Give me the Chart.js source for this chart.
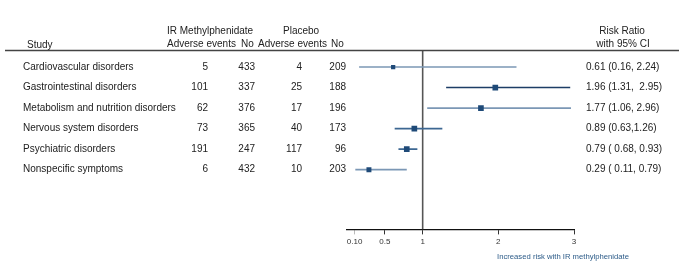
<!DOCTYPE html>
<html lang="en">
<head>
  <meta charset="UTF-8">
  <title>IR Methylphenidate adverse events - forest plot</title>
  <script src="https://cdn.jsdelivr.net/npm/chart.js"></script>
  <style>
    html, body { margin: 0; padding: 0; background: #fff; }
    #wrap { width: 679px; height: 275px; position: relative; }
  </style>
</head>
<body>
  <div id="wrap"><canvas id="forest"></canvas></div>

  <script>
    // data
    const studies = ["Cardiovascular disorders", "Gastrointestinal disorders", "Metabolism and nutrition disorders",
                     "Nervous system disorders", "Psychiatric disorders", "Nonspecific symptoms"];
    const irEvents = [5, 101, 62, 73, 191, 6];
    const irNo = [433, 337, 376, 365, 247, 432];
    const plEvents = [4, 25, 17, 40, 117, 10];
    const plNo = [209, 188, 196, 173, 96, 203];
    const rr = [0.61, 1.96, 1.77, 0.89, 0.79, 0.29];
    const lower = [0.16, 1.31, 1.06, 0.63, 0.68, 0.11];
    const upper = [2.24, 2.95, 2.96, 1.26, 0.93, 0.79];
    const rrText = ["0.61 (0.16, 2.24)", "1.96 (1.31,  2.95)", "1.77 (1.06, 2.96)",
                    "0.89 (0.63,1.26)", "0.79 ( 0.68, 0.93)", "0.29 ( 0.11, 0.79)"];
    const boxSize = [5, 7, 7, 7, 7, 6];
    const tickValues = [0.1, 0.5, 1, 2, 3];
    const tickLabels = ["0.10", "0.5", "1", "2", "3"];

    const ciColors = ["#7b97b5", "#1d3d66", "#7b97b5", "#3d6792", "#3d6792", "#7b97b5"];
    const FONT = '"Liberation Sans", Arial, sans-serif';
    const Y_MIN = -0.83, Y_MAX = 7.91;

    const datasets = [];
    // CI lines, one small line dataset per row
    studies.forEach((s, i) => {
      datasets.push({
        type: "line",
        data: [{ x: lower[i], y: i }, { x: upper[i], y: i }],
        borderColor: ciColors[i],
        borderWidth: 1.6,
        pointRadius: 0,
        order: 2
      });
    });
    // line of no effect
    datasets.push({
      type: "line",
      data: [{ x: 1, y: Y_MIN }, { x: 1, y: Y_MAX }],
      borderColor: "#555",
      borderWidth: 1.6,
      pointRadius: 0,
      order: 3
    });
    // point estimates
    datasets.push({
      type: "scatter",
      data: rr.map((v, i) => ({ x: v, y: i })),
      pointStyle: "rect",
      pointRadius: boxSize.map(b => b / 2 + 0.5),
      backgroundColor: "#1f4a78",
      borderColor: "#1f4a78",
      borderWidth: 0,
      order: 1
    });

    const tablePlugin = {
      id: "tableText",
      afterDraw(chart) {
        const ctx = chart.ctx;
        const y = chart.scales.y;
        ctx.save();
        ctx.fillStyle = "#222";
        ctx.textBaseline = "middle";
        ctx.font = "10px " + FONT;

        // headers
        ctx.textAlign = "left";
        ctx.fillText("Study", 27, 45);
        ctx.fillText("IR Methylphenidate", 167, 31);
        ctx.fillText("Adverse events", 167, 44);
        ctx.fillText("No", 241, 44);
        ctx.fillText("Placebo", 283, 31);
        ctx.fillText("Adverse events", 258, 44);
        ctx.fillText("No", 331, 44);
        ctx.textAlign = "center";
        ctx.fillText("Risk Ratio", 622, 31);
        ctx.fillText("with 95% CI", 623, 44);

        // header rule
        ctx.strokeStyle = "#444";
        ctx.lineWidth = 1.5;
        ctx.beginPath();
        ctx.moveTo(5, 50.5);
        ctx.lineTo(679, 50.5);
        ctx.stroke();

        studies.forEach((s, i) => {
          const py = y.getPixelForValue(i);
          ctx.textAlign = "left";
          ctx.fillText(s, 23, py);
          ctx.textAlign = "right";
          ctx.fillText(String(irEvents[i]), 208, py);
          ctx.fillText(String(irNo[i]), 255, py);
          ctx.fillText(String(plEvents[i]), 302, py);
          ctx.fillText(String(plNo[i]), 346, py);
          ctx.textAlign = "left";
          ctx.fillText(rrText[i], 586, py);
        });

        ctx.font = "7.7px " + FONT;
        ctx.fillStyle = "#2c5b88";
        ctx.textAlign = "left";
        ctx.fillText("Increased risk with IR methylphenidate", 497, 257);
        ctx.restore();
      }
    };

    new Chart(document.getElementById("forest"), {
      type: "scatter",
      data: { datasets },
      options: {
        responsive: true,
        maintainAspectRatio: false,
        animation: false,
        events: [],
        layout: { padding: { left: 347, right: 105, top: 50, bottom: 25 } },
        plugins: { legend: { display: false }, tooltip: { enabled: false } },
        scales: {
          x: {
            type: "linear",
            min: 0,
            max: 3,
            afterBuildTicks: (axis) => { axis.ticks = tickValues.map(v => ({ value: v })); },
            ticks: {
              autoSkip: false,
              maxRotation: 0,
              padding: 3,
              color: "#333",
              font: { family: FONT, size: 8 },
              callback: (v) => tickLabels[tickValues.indexOf(v)]
            },
            grid: {
              drawOnChartArea: false,
              drawTicks: true,
              tickLength: 5,
              color: (c) => c.index === 0 ? "#bbb" : "#333"
            },
            border: { display: true, color: "#111", width: 1.2 }
          },
          y: {
            type: "linear",
            reverse: true,
            min: Y_MIN,
            max: Y_MAX,
            display: false
          }
        }
      },
      plugins: [tablePlugin]
    });
  </script>
</body>
</html>
